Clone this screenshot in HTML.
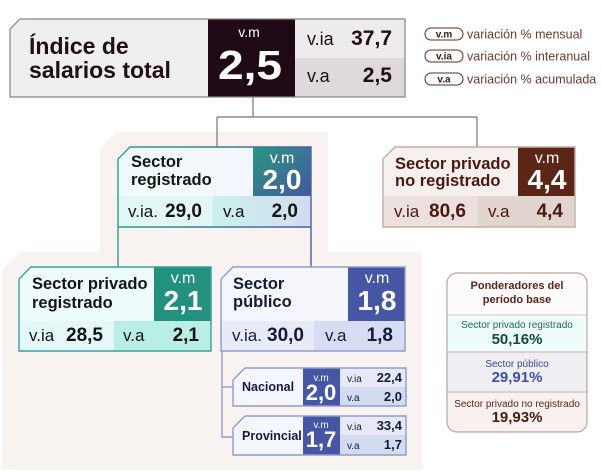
<!DOCTYPE html>
<html><head><meta charset="utf-8"><style>
html,body{margin:0;padding:0;background:#fff;}
svg{display:block;font-family:"Liberation Sans",Arial,sans-serif;}
</style></head><body>
<svg width="601" height="473" viewBox="0 0 601 473" xmlns="http://www.w3.org/2000/svg">
<defs>
<linearGradient id="gBorder" x1="0" y1="0" x2="1" y2="0"><stop offset="0" stop-color="#2a9e8c"/><stop offset="1" stop-color="#4a5ea8"/></linearGradient>
<linearGradient id="gVm" x1="0" y1="0" x2="1" y2="1"><stop offset="0" stop-color="#2a9682"/><stop offset="1" stop-color="#44589f"/></linearGradient>
<linearGradient id="gTitle" x1="0" y1="0" x2="1" y2="0"><stop offset="0" stop-color="#effbfa"/><stop offset="1" stop-color="#f3f6fc"/></linearGradient>
<linearGradient id="gVa" x1="0" y1="0" x2="1" y2="0"><stop offset="0" stop-color="#c9f1ec"/><stop offset="1" stop-color="#d3dcf1"/></linearGradient>
</defs>
<rect width="601" height="473" fill="#fff"/>
<polygon points="117,132 328,132 328,252 422,252 422,470 2,470 2,270 20,252 100,252 100,148" fill="#f8f3f1"/>

<g stroke="#7a7274" stroke-width="1.2" fill="none">
<line x1="253" y1="97" x2="253" y2="117"/>
<line x1="217" y1="117" x2="477" y2="117"/>
<line x1="217" y1="117" x2="217" y2="147"/>
<line x1="477" y1="117" x2="477" y2="147"/>
</g>
<line x1="118" y1="227" x2="118" y2="267" stroke="#2a9e8c" stroke-width="1.4"/>
<line x1="311" y1="227" x2="311" y2="267" stroke="#4a5ea8" stroke-width="1.4"/>
<polyline points="222,351 222,437 233,437" fill="none" stroke="#8e9cd0" stroke-width="1.4"/>
<line x1="222" y1="387" x2="233" y2="387" stroke="#8e9cd0" stroke-width="1.4"/>

<polygon points="20,19 208,19 208,97 10,97 10,29" fill="#efeef1"/>
<rect x="208" y="19" width="87" height="78" fill="#1e0914"/>
<rect x="295" y="19" width="110" height="39" fill="#edebee"/>
<rect x="295" y="58" width="110" height="39" fill="#ddd9dd"/>
<polygon points="20,19 405,19 405,97 10,97 10,29" fill="none" stroke="#8a8287" stroke-width="1.2"/>
<text x="29" y="54" font-size="23" font-weight="bold" fill="#1f0f16">Índice de</text>
<text x="29" y="78" font-size="23" font-weight="bold" fill="#1f0f16">salarios total</text>
<text x="249" y="37" font-size="14" fill="#fff" text-anchor="middle">v.m</text>
<text x="250" y="79" font-size="41" font-weight="bold" fill="#fff" text-anchor="middle" textLength="64" lengthAdjust="spacingAndGlyphs">2,5</text>
<text x="307" y="45" font-size="18" fill="#1f0f16">v.ia</text>
<text x="392" y="45" font-size="21" font-weight="bold" fill="#1f0f16" text-anchor="end">37,7</text>
<text x="307" y="82" font-size="18" fill="#1f0f16">v.a</text>
<text x="392" y="82" font-size="21" font-weight="bold" fill="#1f0f16" text-anchor="end">2,5</text>

<g font-size="12.5" fill="#6a3a2e">
<rect x="425" y="28" width="38" height="12" rx="6" fill="#fff" stroke="#5b2b20" stroke-width="1"/>
<text x="444" y="37.5" font-size="10" font-weight="bold" fill="#3a1a14" text-anchor="middle">v.m</text>
<text x="467" y="38.5">variación % mensual</text>
<rect x="425" y="50" width="38" height="12" rx="6" fill="#fff" stroke="#5b2b20" stroke-width="1"/>
<text x="444" y="59.5" font-size="10" font-weight="bold" fill="#3a1a14" text-anchor="middle">v.ia</text>
<text x="467" y="60.5">variación % interanual</text>
<rect x="425" y="73" width="38" height="12" rx="6" fill="#fff" stroke="#5b2b20" stroke-width="1"/>
<text x="444" y="82.5" font-size="10" font-weight="bold" fill="#3a1a14" text-anchor="middle">v.a</text>
<text x="467" y="83.5">variación % acumulada</text>
</g>

<polygon points="130,147 253,147 253,196 118,196 118,159" fill="url(#gTitle)"/>
<rect x="253" y="147" width="58" height="49" fill="url(#gVm)"/>
<rect x="118" y="196" width="95" height="31" fill="#e2f6f6"/>
<rect x="213" y="196" width="98" height="31" fill="url(#gVa)"/>
<polygon points="130,147 311,147 311,227 118,227 118,159" fill="none" stroke="url(#gBorder)" stroke-width="1.4"/>
<text x="131" y="167" font-size="16.5" font-weight="bold" fill="#141414">Sector</text>
<text x="131" y="185" font-size="16.5" font-weight="bold" fill="#141414">registrado</text>
<text x="282" y="163" font-size="16" fill="#fff" text-anchor="middle">v.m</text>
<text x="282" y="189" font-size="28" font-weight="bold" fill="#fff" text-anchor="middle">2,0</text>
<text x="128" y="217" font-size="17" fill="#141414">v.ia.</text>
<text x="165" y="217" font-size="19" font-weight="bold" fill="#141414">29,0</text>
<text x="223" y="217" font-size="17" fill="#141414">v.a</text>
<text x="298" y="217" font-size="19" font-weight="bold" fill="#141414" text-anchor="end">2,0</text>

<polygon points="395,147 518,147 518,196 383,196 383,159" fill="#f6f0ee"/>
<rect x="518" y="147" width="57" height="49" fill="#5c2515"/>
<rect x="383" y="196" width="95" height="31" fill="#ebe0dd"/>
<rect x="478" y="196" width="97" height="31" fill="#e2d4cf"/>
<polygon points="395,147 575,147 575,227 383,227 383,159" fill="none" stroke="#c8aca4" stroke-width="1.4"/>
<text x="395" y="169" font-size="16.5" font-weight="bold" fill="#4a1810">Sector privado</text>
<text x="395" y="186" font-size="16.5" font-weight="bold" fill="#4a1810">no registrado</text>
<text x="547" y="163" font-size="16" fill="#fff" text-anchor="middle">v.m</text>
<text x="547" y="189" font-size="28" font-weight="bold" fill="#fff" text-anchor="middle">4,4</text>
<text x="394" y="217" font-size="17" fill="#4a1810">v.ia</text>
<text x="429" y="217" font-size="19" font-weight="bold" fill="#4a1810">80,6</text>
<text x="488" y="217" font-size="17" fill="#4a1810">v.a</text>
<text x="563" y="217" font-size="19" font-weight="bold" fill="#4a1810" text-anchor="end">4,4</text>

<polygon points="31,267 154,267 154,321 19,321 19,279" fill="#effcfc"/>
<rect x="154" y="267" width="57" height="54" fill="#23917f"/>
<rect x="19" y="321" width="95" height="30" fill="#e4f8f8"/>
<rect x="114" y="321" width="97" height="30" fill="#b9eee7"/>
<polygon points="31,267 211,267 211,351 19,351 19,279" fill="none" stroke="#2ea896" stroke-width="1.4"/>
<text x="32" y="289" font-size="16.5" font-weight="bold" fill="#141414">Sector privado</text>
<text x="32" y="308" font-size="16.5" font-weight="bold" fill="#141414">registrado</text>
<text x="183" y="283" font-size="16" fill="#fff" text-anchor="middle">v.m</text>
<text x="183" y="310" font-size="28" font-weight="bold" fill="#fff" text-anchor="middle">2,1</text>
<text x="29" y="341" font-size="17" fill="#141414">v.ia</text>
<text x="66" y="341" font-size="19" font-weight="bold" fill="#141414">28,5</text>
<text x="123" y="341" font-size="17" fill="#141414">v.a</text>
<text x="199" y="341" font-size="19" font-weight="bold" fill="#141414" text-anchor="end">2,1</text>

<polygon points="233,267 348,267 348,321 221,321 221,279" fill="#f4f6fc"/>
<rect x="348" y="267" width="57" height="54" fill="#4456a4"/>
<rect x="221" y="321" width="93" height="30" fill="#e8ebf7"/>
<rect x="314" y="321" width="91" height="30" fill="#d6dcf1"/>
<polygon points="233,267 405,267 405,351 221,351 221,279" fill="none" stroke="#8e9cd0" stroke-width="1.4"/>
<text x="233" y="289" font-size="16.5" font-weight="bold" fill="#141a3a">Sector</text>
<text x="233" y="307" font-size="16.5" font-weight="bold" fill="#141a3a">público</text>
<text x="377" y="283" font-size="16" fill="#fff" text-anchor="middle">v.m</text>
<text x="377" y="310" font-size="28" font-weight="bold" fill="#fff" text-anchor="middle">1,8</text>
<text x="232" y="341" font-size="17" fill="#141a3a">v.ia.</text>
<text x="267" y="341" font-size="19" font-weight="bold" fill="#141a3a">30,0</text>
<text x="325" y="341" font-size="17" fill="#141a3a">v.a</text>
<text x="393" y="341" font-size="19" font-weight="bold" fill="#141a3a" text-anchor="end">1,8</text>

<polygon points="245,368 303,368 303,406 233,406 233,380" fill="#f4f6fc"/>
<rect x="303" y="368" width="37" height="38" fill="#4456a4"/>
<rect x="340" y="368" width="66" height="19" fill="#e6eaf7"/>
<rect x="340" y="387" width="66" height="19" fill="#d3dbf1"/>
<polygon points="245,368 406,368 406,406 233,406 233,380" fill="none" stroke="#8e9cd0" stroke-width="1.4"/>
<text x="242" y="391" font-size="12.5" font-weight="bold" fill="#141a3a">Nacional</text>
<text x="321" y="381" font-size="10" fill="#fff" text-anchor="middle">v.m</text>
<text x="321" y="400" font-size="22" font-weight="bold" fill="#fff" text-anchor="middle">2,0</text>
<text x="347" y="382" font-size="10" fill="#141a3a">v.ia</text>
<text x="402" y="382" font-size="13" font-weight="bold" fill="#141a3a" text-anchor="end">22,4</text>
<text x="347" y="401" font-size="10" fill="#141a3a">v.a</text>
<text x="402" y="401" font-size="13" font-weight="bold" fill="#141a3a" text-anchor="end">2,0</text>

<polygon points="245,416 303,416 303,455 233,455 233,428" fill="#f4f6fc"/>
<rect x="303" y="416" width="37" height="39" fill="#4456a4"/>
<rect x="340" y="416" width="66" height="19" fill="#e6eaf7"/>
<rect x="340" y="435" width="66" height="20" fill="#d3dbf1"/>
<polygon points="245,416 406,416 406,455 233,455 233,428" fill="none" stroke="#8e9cd0" stroke-width="1.4"/>
<text x="242" y="440" font-size="12.5" font-weight="bold" fill="#141a3a">Provincial</text>
<text x="321" y="428" font-size="10" fill="#fff" text-anchor="middle">v.m</text>
<text x="321" y="447" font-size="22" font-weight="bold" fill="#fff" text-anchor="middle">1,7</text>
<text x="347" y="430" font-size="10" fill="#141a3a">v.ia</text>
<text x="402" y="430" font-size="13" font-weight="bold" fill="#141a3a" text-anchor="end">33,4</text>
<text x="347" y="449" font-size="10" fill="#141a3a">v.a</text>
<text x="402" y="449" font-size="13" font-weight="bold" fill="#141a3a" text-anchor="end">1,7</text>

<clipPath id="cp"><rect x="447" y="273" width="140" height="159" rx="10"/></clipPath>
<g clip-path="url(#cp)">
<rect x="447" y="273" width="140" height="42" fill="#fdfbfb"/>
<rect x="447" y="315" width="140" height="37" fill="#effcfc"/>
<rect x="447" y="352" width="140" height="40" fill="#efeef3"/>
<rect x="447" y="392" width="140" height="40" fill="#f8f1ef"/>
<line x1="447" y1="315" x2="587" y2="315" stroke="#d8c6c0" stroke-width="1"/>
<line x1="447" y1="352" x2="587" y2="352" stroke="#c8b0aa" stroke-width="1"/>
<line x1="447" y1="392" x2="587" y2="392" stroke="#c8b0aa" stroke-width="1"/>
</g>
<rect x="447" y="273" width="140" height="159" rx="10" fill="none" stroke="#bfa49c" stroke-width="1.2"/>
<text x="517" y="289" font-size="11" font-weight="bold" fill="#5a2418" text-anchor="middle">Ponderadores del</text>
<text x="517" y="303" font-size="11" font-weight="bold" fill="#5a2418" text-anchor="middle">período base</text>
<text x="517" y="328" font-size="10" fill="#1d6a5a" text-anchor="middle">Sector privado registrado</text>
<text x="517" y="344" font-size="15" font-weight="bold" fill="#0f4a3c" text-anchor="middle">50,16%</text>
<text x="517" y="367" font-size="10" fill="#3a4890" text-anchor="middle">Sector público</text>
<text x="517" y="382" font-size="15" font-weight="bold" fill="#3d4fa0" text-anchor="middle">29,91%</text>
<text x="517" y="407" font-size="10" fill="#5a2418" text-anchor="middle">Sector privado no registrado</text>
<text x="517" y="422" font-size="15" font-weight="bold" fill="#4a1a10" text-anchor="middle">19,93%</text>
</svg>
</body></html>
